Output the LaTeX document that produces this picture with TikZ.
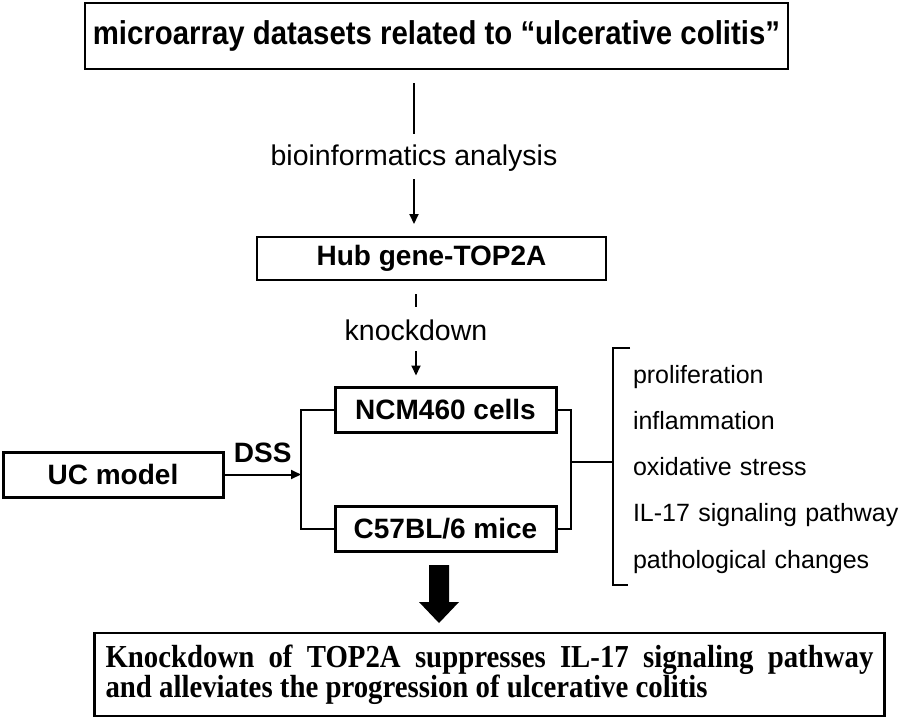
\documentclass[tikz,border=0pt]{standalone}
\usepackage{fontspec}
\setmainfont{Liberation Sans}
\newfontfamily\headfont[FakeStretch=0.89]{Liberation Sans}
\newfontfamily\resultfont[FakeStretch=0.9]{Liberation Serif}
\usetikzlibrary{arrows.meta}

\begin{document}
\begin{tikzpicture}[x=1pt, y=-1pt, node distance=46.25pt, line width=2pt,
                    main node/.style={draw,line width=2.5pt,inner sep=0pt,font=\bfseries\fontsize{28}{32}\selectfont},
                    label node/.style={inner sep=0pt,font=\fontsize{28.5}{32}\selectfont},
                    effect node/.style={inner sep=0pt,text width=275pt,align=left,text height=18pt,text depth=6pt,
                                        font=\fontsize{25}{28}\selectfont},
                    flow/.style={-{Triangle[length=10pt,width=9pt]}}]

  \useasboundingbox (0,0) rectangle (900,718);

  \node[main node,minimum width=703pt,minimum height=66pt,font=\headfont\bfseries\fontsize{33}{36}\selectfont]
       (data) at (436.5,36) {microarray datasets related to “ulcerative colitis”};
  \node[label node] (bio) at (414,158) {bioinformatics analysis};
  \node[main node,line width=2pt,minimum width=349pt,minimum height=43pt] (hub) at (431.5,258.5) {Hub gene-TOP2A};
  \node[label node] (kd) at (416,330) {knockdown};
  \node[main node,line width=3pt,minimum width=221pt,minimum height=45pt] (ncm) at (445.5,409.5) {NCM460 cells};
  \node[main node,line width=3pt,minimum width=221pt,minimum height=45pt] (mice) at (445.5,528.5) {C57BL/6 mice};
  \node[main node,line width=3pt,minimum width=220pt,minimum height=45pt] (uc) at (113,474.5) {UC model};

  % brackets round the two models
  \coordinate (lbr) at (301,476);
  \coordinate (rbr) at (571,462);
  \coordinate (btop) at (613,348);
  \coordinate (bbot) at (613,585);

  \node[effect node] (e1) at (770.5,377) {proliferation};
  \node[effect node] (e2) [below of=e1] {inflammation};
  \node[effect node] (e3) [below of=e2] {oxidative stress};
  \node[effect node] (e4) [below of=e3] {IL-17 signaling pathway};
  \node[effect node] (e5) [below of=e4] {pathological changes};

  \node[draw,line width=2.5pt,text width=768pt,inner xsep=11pt,inner ysep=0pt,minimum height=83pt,align=justify,
        font=\resultfont\bfseries\fontsize{32}{30}\selectfont] (result) at (489.5,674.5)
       {Knockdown of TOP2A suppresses IL-17 signaling pathway\linebreak and alleviates the progression of ulcerative colitis};

  \draw[shorten <=13pt,shorten >=10pt] (data.south -| bio) -- (bio.north);
  \draw[flow,shorten <=7pt,shorten >=12pt] (bio.south) -- (hub.north -| bio);
  \draw[shorten <=13pt,shorten >=12pt] (hub.south -| kd) -- (kd.north);
  \draw[flow,shorten <=10pt,shorten >=10pt] (kd.south) -- (ncm.north -| kd);
  \draw[flow] (uc.east) -- node[above=10pt,main node,draw=none] (dss) {DSS} (uc.east -| lbr);
  \draw (ncm.west) -| (lbr) |- (mice.west);
  \draw (ncm.east) -| (rbr) |- (mice.east);
  \draw (rbr) -- (rbr -| btop);
  \draw ([xshift=17pt]btop) -- (btop) -- (bbot) -- ([xshift=15pt]bbot);

  % big arrow to the result
  \fill (429,565) -- (449,565) -- (449,602) -- (459,602) -- (439,623) -- (419,602) -- (429,602) -- cycle;
\end{tikzpicture}
\end{document}
